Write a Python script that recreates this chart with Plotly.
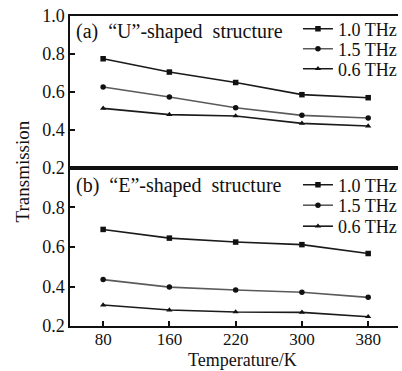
import plotly.graph_objects as go
from plotly.subplots import make_subplots

temps = ["80", "160", "220", "300", "380"]
series_names = ["1.0 THz", "1.5 THz", "0.6 THz"]

u_10 = [0.775, 0.705, 0.650, 0.586, 0.570]
u_15 = [0.626, 0.574, 0.517, 0.477, 0.463]
u_06 = [0.514, 0.481, 0.474, 0.435, 0.421]

e_10 = [0.689, 0.645, 0.625, 0.612, 0.567]
e_15 = [0.435, 0.397, 0.382, 0.371, 0.345]
e_06 = [0.306, 0.281, 0.271, 0.269, 0.247]

panel_titles = ["(a)  \u201cU\u201d-shaped  structure", "(b)  \u201cE\u201d-shaped  structure"]

FONT = "Liberation Serif, Times New Roman, serif"
colors = ["#1a1a1a", "#5a5a5a", "#1a1a1a"]
symbols = ["square", "circle", "triangle-up"]

# legend item centres (paper y) for the six legend entries
leg_y = [[0.9581, 0.8935, 0.8290], [0.4548, 0.3887, 0.3210]]

fig = make_subplots(rows=2, cols=1, shared_xaxes=True, vertical_spacing=0)

k = 0
for row, data in [(1, [u_10, u_15, u_06]), (2, [e_10, e_15, e_06])]:
    for i, (name, vals, c, s) in enumerate(zip(series_names, data, colors, symbols)):
        k += 1
        lname = "legend" if k == 1 else f"legend{k}"
        fig.add_trace(go.Scatter(
            x=temps, y=vals, name=name, mode="lines+markers",
            line=dict(color=c, width=1.6),
            marker=dict(symbol=s, size=5.5, color="#111111"),
            legend=lname, showlegend=True,
        ), row=row, col=1)
        fig.update_layout({lname: dict(
            x=0.695, y=leg_y[row - 1][i], xanchor="left", yanchor="middle",
            font=dict(size=18, family=FONT, color="#111111"),
            bgcolor="rgba(0,0,0,0)", itemwidth=30, borderwidth=0)})

fig.update_layout(
    width=402, height=371, showlegend=True,
    margin=dict(l=70, r=0, t=16, b=45),
    paper_bgcolor="white", plot_bgcolor="white",
    font=dict(family=FONT, color="#111111", size=18),
    yaxis=dict(domain=[0.5097, 1.0]),
    yaxis2=dict(domain=[0.0, 0.5097]),
)

xcommon = dict(type="category", range=[-0.5, 4.45], showgrid=False, zeroline=False,
               showline=True, linecolor="#111111", linewidth=1.5, mirror=True)
fig.update_xaxes(**xcommon)
fig.update_xaxes(ticks="", showticklabels=False, row=1, col=1)
fig.update_xaxes(ticks="inside", ticklen=5, tickcolor="#111111", tickwidth=1.5,
                 tickfont=dict(size=17, family=FONT), row=2, col=1)
try:
    fig.update_xaxes(ticklabelstandoff=-3, row=2, col=1)
except Exception:
    pass

ycommon = dict(range=[0.2, 1.0], showgrid=False, zeroline=False, showline=True, mirror=False,
               linecolor="#111111", linewidth=1.5, ticks="inside", ticklen=5,
               tickcolor="#111111", tickwidth=1.5, tickformat=".1f",
               tickfont=dict(size=18, family=FONT))
fig.update_yaxes(**ycommon)
fig.update_yaxes(tickvals=[0.2, 0.4, 0.6, 0.8, 1.0], row=1, col=1)
fig.update_yaxes(tickvals=[0.2, 0.4, 0.6, 0.8], row=2, col=1)

fig.add_annotation(text=panel_titles[0], xref="paper", yref="paper", x=0.012, y=0.9516,
                   xanchor="left", yanchor="middle", showarrow=False,
                   font=dict(size=20, family=FONT))
fig.add_annotation(text=panel_titles[1], xref="paper", yref="paper", x=0.012, y=0.4548,
                   xanchor="left", yanchor="middle", showarrow=False,
                   font=dict(size=20, family=FONT))
fig.add_annotation(text="Transmission", xref="paper", yref="paper", x=-0.145, y=0.5,
                   xanchor="center", yanchor="middle", textangle=-90, showarrow=False,
                   font=dict(size=19, family=FONT))
fig.add_annotation(text="Temperature/K", xref="paper", yref="paper", x=0.525, y=-0.11,
                   xanchor="center", yanchor="middle", showarrow=False,
                   font=dict(size=18, family=FONT))

fig.write_html("out.html")
